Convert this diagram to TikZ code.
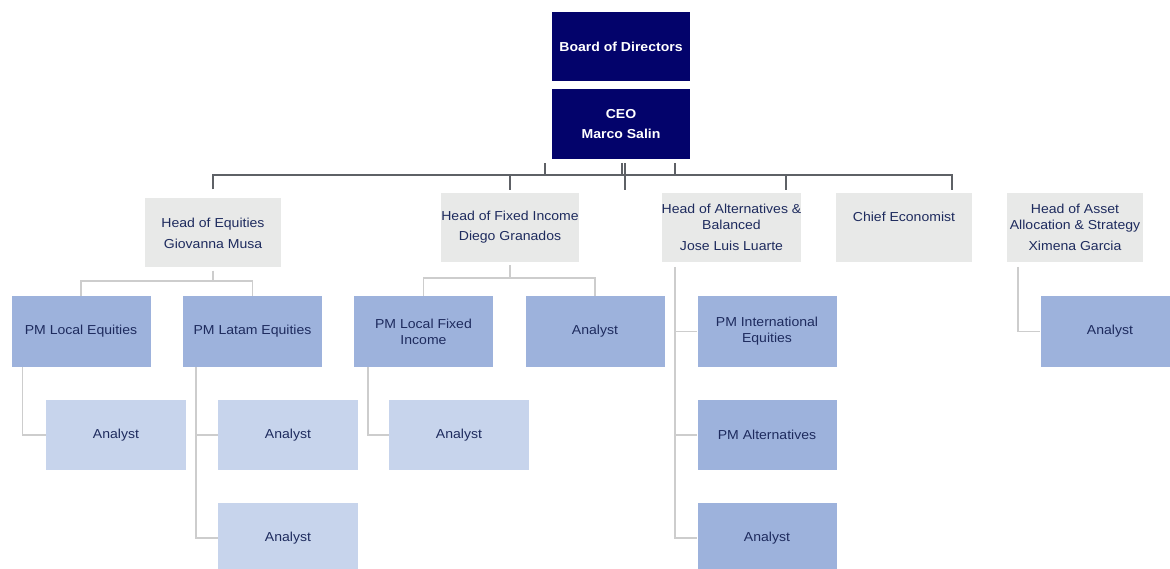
\documentclass[tikz,border=0pt]{standalone}
\usepackage{fontspec}
\setmainfont{Liberation Sans}[FakeStretch=1.08]
\definecolor{navyc}{HTML}{03036B}
\definecolor{txt}{HTML}{1E2B5E}
\definecolor{grayc}{HTML}{E8E9E8}
\definecolor{pmc}{HTML}{9DB2DC}
\definecolor{anc}{HTML}{C7D4EC}
\definecolor{busc}{HTML}{5E6166}
\definecolor{subc}{HTML}{CDCDCD}
\begin{document}
\begin{tikzpicture}[x=1pt,y=-1pt,
  every node/.style={font=\fontsize{13}{16}\selectfont, text=txt, align=center, inner sep=0pt},
  navy/.style={fill=navyc, text=white, minimum width=138pt, font=\bfseries\fontsize{13}{20}\selectfont},
  head/.style={fill=grayc, minimum width=136pt, minimum height=69pt},
  pmbox/.style={fill=pmc, minimum width=139pt, minimum height=71pt},
  anbox/.style={fill=anc, minimum width=140pt, minimum height=70pt},
  bus/.style={draw=busc, line width=2pt},
  sub/.style={draw=subc, line width=1.5pt}]
\fill[white] (0,0) rectangle (1170,569);
\useasboundingbox (0,0) rectangle (1170,569);
% top
\node[navy, minimum height=69pt] (board) at (621,46.5) {Board of Directors};
\node[navy, minimum height=70pt] (ceo) at (621,124) {CEO\\Marco Salin};
% heads
\node[head] (eq) at (213,233) {Head of Equities\\[5pt]Giovanna Musa};
\node[head] (fi) at (510,227.5) {Head of Fixed Income\\[4pt]Diego Granados};
\node[head] (alt) at (731.5,227.5) {Head of Alternatives \&\\Balanced\\[5pt]Jose Luis Luarte};
\node[head] (chief) at (904,227.5) {Chief Economist\\[5pt]\mbox{}};
\node[head] (asset) at (1075,227.5) {Head of Asset\\Allocation \& Strategy\\[5pt]Ximena Garcia};
% PM row
\node[pmbox] (pmle) at (81,331.5) {PM Local Equities};
\node[pmbox] (pmla) at (252.5,331.5) {PM Latam Equities};
\node[pmbox] (pmlfi) at (423.5,331.5) {PM Local Fixed\\Income};
\node[pmbox] (anfi) at (595,331.5) {Analyst};
\node[pmbox] (pmie) at (767,331.5) {PM International\\Equities};
\node[pmbox] (anaa) at (1110,331.5) {Analyst};
% third row
\node[anbox] (an1) at (116,435) {Analyst};
\node[anbox] (an2) at (288,435) {Analyst};
\node[anbox] (an3) at (459,435) {Analyst};
\node[pmbox, minimum height=70pt] (pmalt) at (767,435) {PM Alternatives};
% fourth row
\node[anbox] (an4) at (288,538) {Analyst};
\node[pmbox, minimum height=70pt] (anal) at (767,538) {Analyst};
% bus
\coordinate (bL) at (213,175);
\coordinate (bR) at (952,175);
\draw[bus] ([yshift=9pt]eq.north) -- (bL) -- (bR) -- ++(0,15);
\draw[bus] ([yshift=3pt]fi.north) -- ++(0,-15);
\draw[bus] ([xshift=54.5pt,yshift=3pt]alt.north) -- ++(0,-15);
\draw[bus] ([xshift=4pt,yshift=-4pt]ceo.south) -- ++(0,27);
\draw[bus] ([xshift=1pt,yshift=-4pt]ceo.south) -- ++(0,12);
\draw[bus] ([xshift=-76pt,yshift=-4pt]ceo.south) -- ++(0,12);
\draw[bus] ([xshift=54pt,yshift=-4pt]ceo.south) -- ++(0,12);
% sub connectors
\coordinate (eqj) at (213,281);
\draw[sub] ([yshift=-3pt]eq.south) -- (eqj);
\draw[sub] (pmle.north) |- (eqj) -| (pmla.north);
\coordinate (fij) at (510,278);
\draw[sub] ([yshift=-3pt]fi.south) -- (fij);
\draw[sub] (pmlfi.north) |- (fij) -| (anfi.north);
\coordinate (altv) at (675,267);
\draw[sub] (altv) |- (anal.west);
\draw[sub] (altv |- pmie.west) -- (pmie.west);
\draw[sub] (altv |- pmalt.west) -- (pmalt.west);
\coordinate (asv) at (1018,267);
\draw[sub] (asv) |- (anaa.west);
\draw[sub] ([xshift=11pt]pmle.south west) |- (an1.west);
\coordinate (lav) at ([xshift=13pt]pmla.south west);
\draw[sub] (lav) |- (an4.west);
\draw[sub] (lav |- an2.west) -- (an2.west);
\draw[sub] ([xshift=14pt]pmlfi.south west) |- (an3.west);
\end{tikzpicture}
\end{document}
